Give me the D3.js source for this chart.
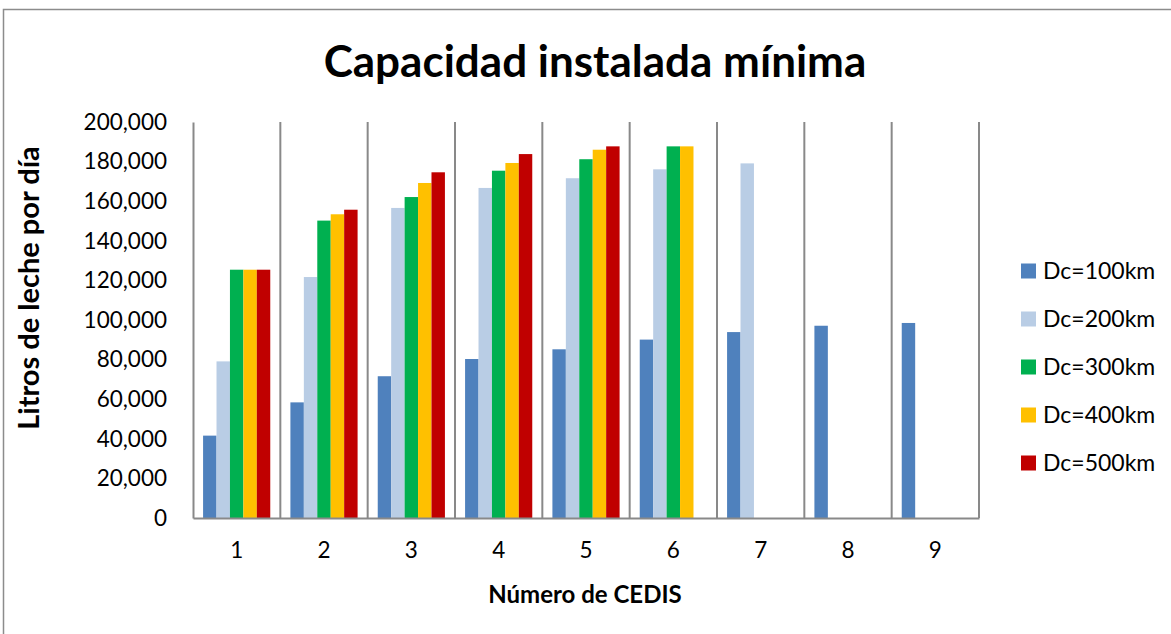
<!DOCTYPE html>
<html>
<head>
<meta charset="utf-8">
<script src="https://cdn.jsdelivr.net/npm/d3@7"></script>
<style>
  body { margin: 0; background: #fff; }
  text { font-family: Lato, "Open Sans", sans-serif; fill: #000; }
</style>
</head>
<body>
<script>
/*
*    capacidad instalada
*/

var width = 1171;
var height = 634;
var margin = {top: 122, right: 192, bottom: 116, left: 193};

// data
var cedis = ["1", "2", "3", "4", "5", "6", "7", "8", "9"];
var series = ["Dc=100km", "Dc=200km", "Dc=300km", "Dc=400km", "Dc=500km"];
var dc100 = [41600, 58400, 71600, 80300, 85200, 90100, 93900, 97100, 98500];
var dc200 = [79100, 121700, 156600, 166700, 171600, 176100, 179100, null, null];
var dc300 = [125400, 150200, 162100, 175400, 181200, 187700, null, null, null];
var dc400 = [125400, 153400, 169200, 179300, 186000, 187700, null, null, null];
var dc500 = [125400, 155700, 174600, 183800, 187700, null, null, null, null];
var yTicks = [0, 20000, 40000, 60000, 80000, 100000, 120000, 140000, 160000, 180000, 200000];
var colors = ["#4F81BD", "#B9CDE5", "#00B050", "#FFC000", "#C00000"];

var allValues = [dc100, dc200, dc300, dc400, dc500];
var data = cedis.map((c, i) => ({
    cedis: c,
    values: series.map((s, j) => ({serie: s, value: allValues[j][i]}))
}));

var innerWidth = width - margin.left - margin.right;
var innerHeight = height - margin.top - margin.bottom;

var svg = d3.select("body")
    .append("svg")
        .attr("width", width)
        .attr("height", height);

// chart border (only top and left edges fall inside the picture)
svg.append("path")
    .attr("d", "M3.5,634 V9.5 H1171")
    .attr("fill", "none")
    .attr("stroke", "#8c8c8c")
    .attr("stroke-width", 1.5);

// title
svg.append("text")
    .attr("x", 595)
    .attr("y", 77)
    .attr("text-anchor", "middle")
    .attr("font-size", "44px")
    .attr("font-weight", "bold")
    .text("Capacidad instalada mínima");

const g = svg.append("g")
    .attr("transform", "translate(" + margin.left + ", " + margin.top + ")");

// scales
var x0 = d3.scaleBand()
    .domain(cedis)
    .range([0, innerWidth])
    .padding(0);

var x1 = d3.scaleBand()
    .domain(series)
    .range([0, x0.bandwidth()])
    .paddingInner(0)
    .paddingOuter(0.75);

var y = d3.scaleLinear()
    .domain([0, 200000])
    .range([innerHeight, 0]);

// vertical gridlines between categories
g.selectAll(".grid")
    .data(cedis)
    .enter()
    .append("line")
        .attr("class", "grid")
        .attr("x1", d => x0(d) + x0.step())
        .attr("x2", d => x0(d) + x0.step())
        .attr("y1", 0)
        .attr("y2", innerHeight)
        .attr("stroke", "#898989")
        .attr("stroke-width", 2);

// bars
var groups = g.selectAll(".group")
    .data(data)
    .enter()
    .append("g")
        .attr("class", "group")
        .attr("transform", d => "translate(" + x0(d.cedis) + ",0)");

groups.selectAll("rect")
    .data(d => d.values.filter(v => v.value != null))
    .enter()
    .append("rect")
        .attr("x", d => x1(d.serie))
        .attr("y", d => y(d.value))
        .attr("width", x1.bandwidth())
        .attr("height", d => innerHeight - y(d.value))
        .attr("fill", d => colors[series.indexOf(d.serie)]);

// left axis
var leftAxis = d3.axisLeft(y)
    .tickValues(yTicks)
    .tickSize(0)
    .tickPadding(26)
    .tickFormat(d3.format(","));
g.append("g")
    .attr("class", "y-axis")
    .call(leftAxis)
    .call(a => a.attr("font-size", 22.5).attr("font-family", "Lato, sans-serif"))
    .call(a => a.select(".domain").attr("stroke", "#898989").attr("stroke-width", 2));

// bottom axis
var bottomAxis = d3.axisBottom(x0)
    .tickSize(0)
    .tickPadding(24);
g.append("g")
    .attr("class", "x-axis")
    .attr("transform", "translate(0, " + innerHeight + ")")
    .call(bottomAxis)
    .call(a => a.attr("font-size", 22.5).attr("font-family", "Lato, sans-serif"))
    .call(a => a.select(".domain").attr("stroke", "#898989").attr("stroke-width", 2));

// axis labels
g.append("text")
    .attr("x", 392)
    .attr("y", innerHeight + 85)
    .attr("text-anchor", "middle")
    .attr("font-size", "24px")
    .attr("font-weight", "bold")
    .text("Número de CEDIS");

g.append("text")
    .attr("transform", "rotate(-90)")
    .attr("x", -166)
    .attr("y", -154)
    .attr("text-anchor", "middle")
    .attr("font-size", "29px")
    .attr("font-weight", "bold")
    .text("Litros de leche por día");

// legend
var legend = svg.selectAll(".legend")
    .data(series)
    .enter()
    .append("g")
        .attr("class", "legend")
        .attr("transform", (d, i) => "translate(1021, " + (271 + i * 48) + ")");

legend.append("rect")
    .attr("x", 0)
    .attr("y", -7.5)
    .attr("width", 15)
    .attr("height", 15)
    .attr("fill", (d, i) => colors[i]);

legend.append("text")
    .attr("x", 22)
    .attr("y", 8)
    .attr("font-size", "23px")
    .text(d => d);
</script>
</body>
</html>
